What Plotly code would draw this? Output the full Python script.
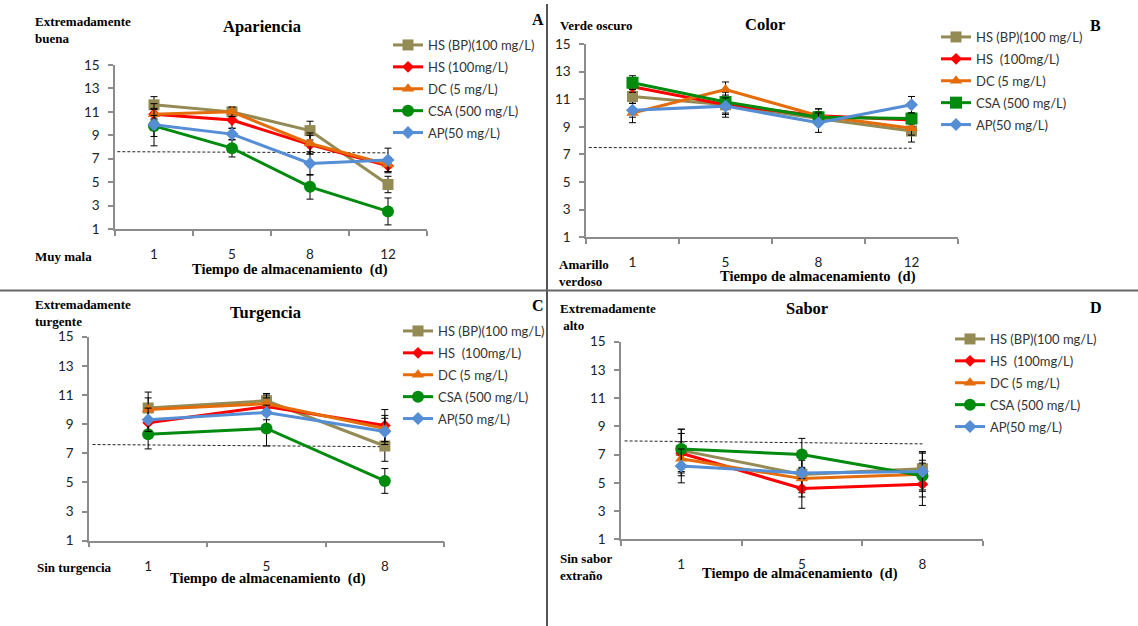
import plotly.graph_objects as go

W, H = 1138, 626


def fx(px):
    return px / W


def fy(py):
    return 1 - py / H


# ---------------- DATA ----------------
series_names = ["HS (BP)(100 mg/L)", "HS (100mg/L)", "DC (5 mg/L)", "CSA (500 mg/L)", "AP(50 mg/L)"]
series_names_alt = ["HS (BP)(100 mg/L)", "HS\u00a0 (100mg/L)", "DC (5 mg/L)", "CSA (500 mg/L)", "AP(50 mg/L)"]

days_4 = ["1", "5", "8", "12"]
days_3 = ["1", "5", "8"]

# Panel A - Apariencia
a_hs_bp = [11.6, 11.0, 9.4, 4.8]
a_hs = [10.8, 10.3, 8.2, 6.4]
a_dc = [10.8, 11.0, 8.3, 6.5]
a_csa = [9.8, 7.9, 4.6, 2.5]
a_ap = [9.9, 9.1, 6.6, 6.9]
a_hs_bp_err = [0.7, 0.4, 0.8, 0.7]
a_hs_err = [0.5, 0.7, 0.8, 0.6]
a_dc_err = [0.4, 0.4, 0.9, 0.6]
a_csa_err = [0.9, 0.75, 1.05, 1.15]
a_ap_err = [1.8, 0.5, 1.0, 1.0]
a_limit = [7.6, 7.5]

# Panel B - Color
b_hs_bp = [11.2, 10.6, 9.6, 8.7]
b_hs = [11.9, 10.6, 9.8, 9.5]
b_dc = [10.0, 11.7, 9.8, 8.9]
b_csa = [12.2, 10.8, 9.7, 9.6]
b_ap = [10.2, 10.5, 9.3, 10.6]
b_hs_bp_err = [0.5, 0.9, 0.5, 0.8]
b_hs_err = [0.4, 0.6, 0.5, 0.5]
b_dc_err = [0.7, 0.55, 0.5, 0.5]
b_csa_err = [0.5, 0.5, 0.4, 0.4]
b_ap_err = [0.5, 0.6, 0.7, 0.6]
b_limit = [7.5, 7.45]

# Panel C - Turgencia
c_hs_bp = [10.1, 10.6, 7.5]
c_hs = [9.1, 10.2, 8.9]
c_dc = [10.0, 10.4, 8.7]
c_csa = [8.3, 8.7, 5.1]
c_ap = [9.3, 9.8, 8.5]
c_hs_bp_err = [1.1, 0.5, 1.05]
c_hs_err = [0.9, 0.6, 1.1]
c_dc_err = [0.8, 0.6, 0.9]
c_csa_err = [1.0, 1.2, 0.85]
c_ap_err = [0.8, 0.5, 0.9]
c_limit = [7.6, 7.45]

# Panel D - Sabor
d_hs_bp = [7.3, 5.6, 6.0]
d_hs = [7.1, 4.6, 4.9]
d_dc = [6.7, 5.3, 5.6]
d_csa = [7.4, 7.0, 5.5]
d_ap = [6.2, 5.7, 5.8]
d_hs_bp_err = [1.5, 1.3, 1.2]
d_hs_err = [1.4, 1.4, 1.5]
d_dc_err = [1.2, 1.3, 1.6]
d_csa_err = [1.4, 1.15, 1.1]
d_ap_err = [1.2, 0.4, 1.3]
d_limit = [7.97, 7.76]

# ---------------- STYLE ----------------
colors = ["#948A54", "#FF0000", "#E46C0A", "#008A0E", "#558ED5"]
symbols = ["square", "diamond", "triangle-up", "circle", "diamond"]
sizes = [11, 9, 11, 12, 10]
serif = "Liberation Serif"
sans = "Lato"

fig = go.Figure()

panels = [
    dict(ax="", days=days_4, data=[a_hs_bp, a_hs, a_dc, a_csa, a_ap],
         err=[a_hs_bp_err, a_hs_err, a_dc_err, a_csa_err, a_ap_err], limit=a_limit,
         legend="legend", names=series_names, symbols=symbols,
         dom=(115, 427, 65, 229), leg=(388, 30)),
    dict(ax="2", days=days_4, data=[b_hs_bp, b_hs, b_dc, b_csa, b_ap],
         err=[b_hs_bp_err, b_hs_err, b_dc_err, b_csa_err, b_ap_err], limit=b_limit,
         legend="legend2", names=series_names_alt,
         symbols=["square", "diamond", "triangle-up", "square", "diamond"],
         dom=(586, 958, 44, 237.3), leg=(936, 22)),
    dict(ax="3", days=days_3, data=[c_hs_bp, c_hs, c_dc, c_csa, c_ap],
         err=[c_hs_bp_err, c_hs_err, c_dc_err, c_csa_err, c_ap_err], limit=c_limit,
         legend="legend3", names=series_names_alt, symbols=symbols,
         dom=(89, 444, 336.7, 540.7), leg=(398, 316)),
    dict(ax="4", days=days_3, data=[d_hs_bp, d_hs, d_dc, d_csa, d_ap],
         err=[d_hs_bp_err, d_hs_err, d_dc_err, d_csa_err, d_ap_err], limit=d_limit,
         legend="legend4", names=series_names_alt, symbols=symbols,
         dom=(621, 982.7, 341.7, 539.3), leg=(950, 324)),
]

layout = dict(
    width=W, height=H, margin=dict(l=0, r=0, t=0, b=0, autoexpand=False),
    paper_bgcolor="white", plot_bgcolor="white", showlegend=True,
)

for p in panels:
    ax = p["ax"]
    n = len(p["days"])
    idx = list(range(n))
    xref = "x" + ax
    yref = "y" + ax
    # dashed acceptability limit
    fig.add_trace(go.Scatter(
        x=[-0.47, n - 1], y=p["limit"], mode="lines",
        line=dict(color="#222222", width=1, dash="3px,2px"),
        showlegend=False, hoverinfo="skip", xaxis=xref, yaxis=yref))
    for k in range(5):
        fig.add_trace(go.Scatter(
            x=idx, y=p["data"][k], name=p["names"][k], mode="lines+markers",
            line=dict(color=colors[k], width=3),
            marker=dict(color=colors[k], symbol=p["symbols"][k], size=sizes[k]),
            error_y=dict(type="data", array=p["err"][k], color="black",
                         thickness=1, width=3.5),
            legend=p["legend"], legendgroup=p["legend"] + str(k),
            xaxis=xref, yaxis=yref))
    x0, x1, y0, y1 = p["dom"]
    layout["xaxis" + ax] = dict(
        domain=[fx(x0), fx(x1)], anchor=yref, range=[-0.5, n - 0.5],
        automargin=False,
        tickmode="array", tickvals=idx, ticktext=p["days"], ticks="",
        showline=True, linecolor="#8C8C8C", linewidth=1.5, showgrid=False,
        zeroline=False, ticklabelstandoff=12,
        tickfont=dict(family=sans, size=13.5, color="#222222"),
        minor=dict(tickmode="array", tickvals=[i - 0.5 for i in range(n + 1)],
                   ticks="outside", ticklen=5, tickcolor="#8C8C8C", tickwidth=1.5))
    layout["yaxis" + ax] = dict(
        domain=[fy(y1), fy(y0)], anchor=xref, range=[1, 15], automargin=False,
        tickmode="linear", tick0=1, dtick=2, ticks="outside", ticklen=5,
        tickcolor="#8C8C8C", tickwidth=1.5, showline=True, linecolor="#8C8C8C",
        linewidth=1.5, showgrid=False, zeroline=False, ticklabelstandoff=6,
        tickfont=dict(family=sans, size=13.5, color="#222222"))
    lx, ly = p["leg"]
    layout[p["legend"]] = dict(
        x=fx(lx), y=fy(ly), xanchor="left", yanchor="top",
        bgcolor="rgba(0,0,0,0)", borderwidth=0, itemwidth=30,
        tracegroupgap=2, font=dict(family=sans, size=13, color="#333333"))

fig.update_layout(**layout)

# ---------------- TEXT ----------------
def txt(x, y, s, size=13, xanchor="left", family=serif):
    fig.add_annotation(x=fx(x), y=fy(y), xref="paper", yref="paper", text=s,
                       showarrow=False, xanchor=xanchor, yanchor="middle",
                       align="left", font=dict(family=family, size=size, color="black"))


bold = lambda s: "<b>" + s + "</b>"
axis_title = bold("Tiempo de almacenamiento&nbsp; (d)")

# Panel A
txt(33, 30, bold("Extremadamente<br>buena"))
txt(262, 27, bold("Apariencia"), 16.5, "center")
txt(538, 20, bold("A"), 16, "center")
txt(33, 256, bold("Muy mala"))
txt(290, 269, axis_title, 14.5, "center")

# Panel B
txt(558, 25, bold("Verde oscuro"))
txt(765, 24, bold("Color"), 16.5, "center")
txt(1095, 25, bold("B"), 16, "center")
txt(557, 273, bold("Amarillo<br>verdoso"))
txt(818, 277, axis_title, 14.5, "center")

# Panel C
txt(33, 313, bold("Extremadamente<br>turgente"))
txt(265, 312, bold("Turgencia"), 16.5, "center")
txt(538, 305, bold("C"), 16, "center")
txt(35, 567, bold("Sin turgencia"))
txt(268, 578, axis_title, 14.5, "center")

# Panel D
txt(558, 317, bold("Extremadamente<br>&nbsp;alto"))
txt(807, 309, bold("Sabor"), 16.5, "center")
txt(1096, 307, bold("D"), 16, "center")
txt(558, 567, bold("Sin sabor<br>extraño"))
txt(800, 573, axis_title, 14.5, "center")

# panel separators
fig.add_shape(type="line", xref="paper", yref="paper", x0=fx(547), x1=fx(547),
              y0=fy(4), y1=fy(626), line=dict(color="#555555", width=2))
fig.add_shape(type="line", xref="paper", yref="paper", x0=0, x1=1,
              y0=fy(290.5), y1=fy(290.5), line=dict(color="#666666", width=2))

fig.write_html("out.html")
